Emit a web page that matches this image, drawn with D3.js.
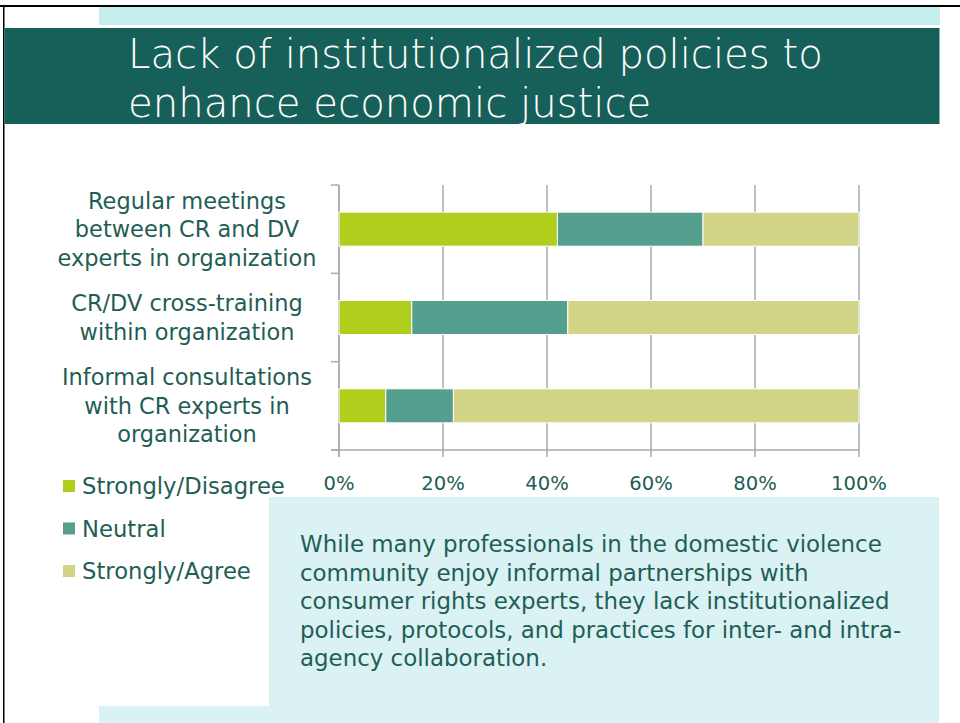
<!DOCTYPE html>
<html>
<head>
<meta charset="utf-8">
<script src="https://cdn.jsdelivr.net/npm/d3@7"></script>
<style>
body { margin: 0; background: #fff; }
svg { display: block; }
text { font-family: "DejaVu Sans", sans-serif; }
</style>
</head>
<body>
<svg id="chart" width="960" height="723"></svg>
<script>
// data
var categoryLines = [
  ["Regular meetings", "between CR and DV", "experts in organization"],
  ["CR/DV cross-training", "within organization"],
  ["Informal consultations", "with CR experts in", "organization"]
]
var seriesNames = ["Strongly/Disagree", "Neutral", "Strongly/Agree"]
var disagree = [42, 14, 9]
var neutral = [28, 30, 13]
var agree = [30, 56, 78]
var tickValues = [0, 20, 40, 60, 80, 100]
var colors = ["#b0ce1c", "#559f8f", "#d2d585"]

var titleLines = ["Lack of institutionalized policies to", "enhance economic justice"]
var noteLines = [
  "While many professionals in the domestic violence",
  "community enjoy informal partnerships with",
  "consumer rights experts, they lack institutionalized",
  "policies, protocols, and practices for inter- and intra-",
  "agency collaboration."
]

var textColor = "#1f5e55"
var gridColor = "#a5aeac"

var svg = d3.select("#chart")

// size a group of texts so that a reference text has a given width
var fit = function(sel, refIndex, target) {
  var node = sel.nodes()[refIndex]
  var fs = parseFloat(d3.select(node).attr("font-size"))
  var w = node.getComputedTextLength()
  sel.attr("font-size", fs * target / w)
}

// slide frame
svg.append("rect").attr("x", 0).attr("y", 5).attr("width", 960).attr("height", 2).attr("fill", "#000")
svg.append("rect").attr("x", 3).attr("y", 5).attr("width", 1.5).attr("height", 718).attr("fill", "#000")
svg.append("rect").attr("x", 99).attr("y", 7).attr("width", 841).attr("height", 18).attr("fill", "#c6eded")
svg.append("rect").attr("x", 4.5).attr("y", 28).attr("width", 935).attr("height", 96).attr("fill", "#17605a")

var title = svg.selectAll(".title")
  .data(titleLines)
  .enter().append("text")
  .attr("class", "title")
  .attr("x", 128)
  .attr("y", (d, i) => 68 + i * 49)
  .attr("fill", "#fff")
  .attr("font-weight", 200)
  .attr("font-size", 40)
  .text(d => d)
fit(title, 0, 695)

// note box
svg.append("path")
  .attr("d", "M269,497H939V723H99V706H269Z")
  .attr("fill", "#daf2f3")

var note = svg.selectAll(".note")
  .data(noteLines)
  .enter().append("text")
  .attr("class", "note")
  .attr("x", 300)
  .attr("y", (d, i) => 552 + i * 28.5)
  .attr("fill", textColor)
  .attr("font-size", 22)
  .text(d => d)
fit(note, 0, 582)

// chart
var x = d3.scaleLinear().domain([0, 100]).range([339, 859])
var y = d3.scaleBand().domain(d3.range(categoryLines.length)).range([185, 450])
  .paddingInner(0.615).paddingOuter(0.3075)

var rows = d3.range(categoryLines.length).map(i => ({
  "Strongly/Disagree": disagree[i], "Neutral": neutral[i], "Strongly/Agree": agree[i]
}))
var stacked = d3.stack().keys(seriesNames)(rows)

// gridlines + bottom ticks
svg.selectAll(".grid")
  .data(tickValues)
  .enter().append("line")
  .attr("class", "grid")
  .attr("x1", d => x(d)).attr("x2", d => x(d))
  .attr("y1", 185).attr("y2", 457)
  .attr("stroke", gridColor).attr("stroke-width", 1.5)

// left axis with ticks at band edges
var edges = d3.range(categoryLines.length + 1).map(i => 185 + i * y.step())
svg.selectAll(".ytick")
  .data(edges)
  .enter().append("line")
  .attr("x1", 331).attr("x2", 339)
  .attr("y1", d => d).attr("y2", d => d)
  .attr("stroke", gridColor).attr("stroke-width", 1.5)
svg.append("line")
  .attr("x1", 339).attr("x2", 339).attr("y1", 185).attr("y2", 457)
  .attr("stroke", gridColor).attr("stroke-width", 1.5)
svg.append("line")
  .attr("x1", 331).attr("x2", 859).attr("y1", 450).attr("y2", 450)
  .attr("stroke", gridColor).attr("stroke-width", 1.5)

var layer = svg.selectAll(".layer")
  .data(stacked)
  .enter().append("g")
  .attr("class", "layer")
  .attr("fill", (d, i) => colors[i])

layer.selectAll("rect")
  .data(d => d)
  .enter().append("rect")
  .attr("x", d => x(d[0]))
  .attr("width", d => x(d[1]) - x(d[0]))
  .attr("y", (d, i) => y(i))
  .attr("height", y.bandwidth())
  .attr("stroke", "#fff").attr("stroke-width", 1)

// x tick labels
var tl = svg.selectAll(".xlabel")
  .data(tickValues)
  .enter().append("text")
  .attr("class", "xlabel")
  .attr("x", d => x(d))
  .attr("y", 490)
  .attr("text-anchor", "middle")
  .attr("fill", textColor)
  .attr("font-size", 20)
  .text(d => d + "%")
fit(tl, 5, 56)

// category labels
var lineH = 28.5
var catTexts = []
categoryLines.forEach(function(lines, i) {
  var cy = y(i) + y.bandwidth() / 2
  lines.forEach(function(l, j) {
    catTexts.push({ text: l, y: cy + (j - (lines.length - 1) / 2) * lineH + 8 })
  })
})
var cat = svg.selectAll(".cat")
  .data(catTexts)
  .enter().append("text")
  .attr("class", "cat")
  .attr("x", 187)
  .attr("y", d => d.y)
  .attr("text-anchor", "middle")
  .attr("fill", textColor)
  .attr("font-size", 22)
  .text(d => d.text)
fit(cat, 2, 259)

// legend
var legend = svg.selectAll(".legend")
  .data(seriesNames)
  .enter().append("g")
  .attr("class", "legend")
  .attr("transform", (d, i) => "translate(63," + (494 + i * 42.5) + ")")

legend.append("rect")
  .attr("x", 0).attr("y", -14)
  .attr("width", 12).attr("height", 12)
  .attr("fill", (d, i) => colors[i])

var lt = legend.append("text")
  .attr("x", 19)
  .attr("fill", textColor)
  .attr("font-size", 21)
  .text(d => d)
fit(lt, 0, 203)
</script>
</body>
</html>
